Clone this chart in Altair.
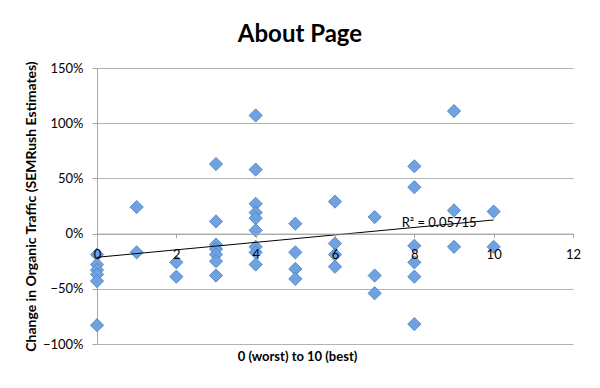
import altair as alt
import pandas as pd

# score 0..10 and change in organic traffic (%)
scores = ([0] * 6 + [1] * 2 + [2] * 2 + [3] * 7 + [4] * 9 + [5] * 4 +
          [6] * 4 + [7] * 3 + [8] * 6 + [9] * 3 + [10] * 2)
changes_pct = [
    -19, -28, -33, -37, -43, -83,          # 0
    24, -17,                               # 1
    -26, -39,                              # 2
    63, 11, -10, -14, -19, -25, -38,       # 3
    107, 58, 27, 19, 14, 3, -12, -17, -28, # 4
    9, -17, -32, -41,                      # 5
    29, -9, -19, -30,                      # 6
    15, -38, -54,                          # 7
    61, 42, -11, -26, -39, -82,            # 8
    111, 21, -12,                          # 9
    20, -12,                               # 10
]
x_ticks = [0, 2, 4, 6, 8, 10, 12]
y_ticks = [-1.0, -0.5, 0.0, 0.5, 1.0, 1.5]
r2_label = "R² = 0.05715"
r2_pos = (7.68, 0.10)

df = pd.DataFrame({"score": scores, "change": [c / 100 for c in changes_pct]})
lab = pd.DataFrame({"score": [r2_pos[0]], "change": [r2_pos[1]], "t": [r2_label]})

FONT = "Lato"
W, H = 476, 276
y_zero_offset = -(H - H * 1.5 / 2.5)

xscale = alt.Scale(domain=[0, 12], nice=False, zero=False)
yscale = alt.Scale(domain=[-1, 1.5], nice=False, zero=False)

xaxis = alt.Axis(values=x_ticks, format="d", grid=False, offset=y_zero_offset,
                 domainColor="#A6A6A6", tickColor="#A6A6A6", tickSize=4,
                 labelPadding=11, labelFont=FONT, labelFontSize=13, labelColor="#000000",
                 labelFlush=False, zindex=1,
                 title="0 (worst) to 10 (best)", titleFont=FONT, titleFontSize=13,
                 titleFontWeight="bold", titleColor="#000000",
                 titleX=200, titleY=123, titleBaseline="middle", titleAlign="center")
yaxis = alt.Axis(values=y_ticks, format=".0%", grid=True, gridColor="#B3B3B3",
                 domainColor="#A6A6A6", tickColor="#A6A6A6", tickSize=5,
                 labelPadding=9, labelFont=FONT, labelFontSize=13, labelColor="#000000",
                 title="Change in Organic Traffic (SEMRush Estimates)", titleFont=FONT,
                 titleFontSize=14, titleFontWeight="bold", titleColor="#000000",
                 titleX=-66, titleY=H / 2, titleAngle=270, titleBaseline="middle",
                 titleAlign="center")

points = alt.Chart(df).mark_point(
    shape="diamond", filled=True, size=175, fill="#6FA2E0", stroke="#4A7EBB",
    strokeWidth=0.8, opacity=1,
).encode(
    x=alt.X("score:Q", scale=xscale, axis=xaxis),
    y=alt.Y("change:Q", scale=yscale, axis=yaxis),
)

trend = alt.Chart(df).transform_regression(
    "score", "change", extent=[0, 10]
).mark_line(color="#000000", strokeWidth=1).encode(
    x=alt.X("score:Q", scale=xscale),
    y=alt.Y("change:Q", scale=yscale),
)

r2 = alt.Chart(lab).mark_text(
    align="left", baseline="middle", font=FONT, fontSize=13, color="#000000"
).encode(
    x=alt.X("score:Q", scale=xscale),
    y=alt.Y("change:Q", scale=yscale),
    text="t:N",
)

chart = alt.layer(points, trend, r2).properties(
    width=W, height=H,
    title=alt.TitleParams("About Page", font=FONT, fontSize=24, fontWeight="bold",
                          color="#000000", anchor="middle", dx=-35, dy=25, offset=20,
                          baseline="alphabetic"),
    autosize=alt.AutoSizeParams(type="none"),
    padding={"left": 89, "top": 60, "right": 19, "bottom": 36},
).configure_view(stroke="transparent")

chart.save("out.html", embed_options={"renderer": "svg", "actions": False})
